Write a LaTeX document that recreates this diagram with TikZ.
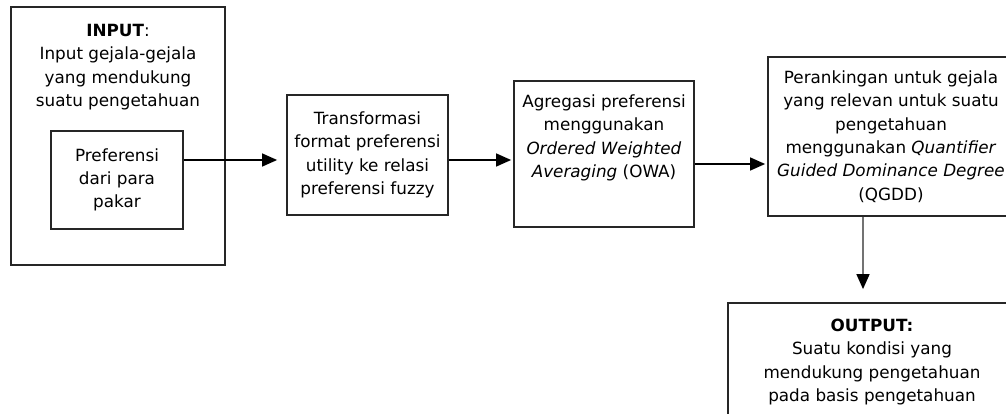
\documentclass[tikz,border=0pt]{standalone}
\usepackage{fontspec}
\setmainfont{DejaVu Sans}
\usetikzlibrary{arrows.meta}
\begin{document}
\begin{tikzpicture}[x=1pt,y=-1pt,
  box/.style={draw=black!85, line width=1.8pt, inner sep=0pt, align=center,
    font=\fontsize{16.8}{23.3}\selectfont},
  txt/.style={align=center, inner sep=0pt, font=\fontsize{16.8}{23.3}\selectfont},
  conn/.style={line width=1.4pt, -{Triangle[length=15pt,width=13pt]}}
]
\useasboundingbox (0,0) rectangle (1006,414);
\clip (0,0) rectangle (1006,414);

% input block with the expert preferences inside
\node[box, minimum width=214pt, minimum height=258pt] (inbox) at (118,136) {};
\node[txt] (intxt) at (118,67) {\textbf{INPUT}:\\Input gejala-gejala\\yang mendukung\\suatu pengetahuan};
\node[box, minimum width=132pt, minimum height=98pt] (pref) at (117,180) {Preferensi\\dari para\\pakar};

% processing steps
\node[box, minimum width=161pt, minimum height=120pt] (trans) at (367.5,155)
  {Transformasi\\format preferensi\\utility ke relasi\\preferensi fuzzy};
\node[box, minimum width=180pt, minimum height=146pt] (agr) at (604,154) {};
\node[txt] (agrtxt) at (604,138)
  {Agregasi preferensi\\menggunakan\\\textit{Ordered Weighted}\\\textit{Averaging} (OWA)};
\node[box, minimum width=246pt, minimum height=159pt] (rank) at (891,136.5)
  {Perankingan untuk gejala\\yang relevan untuk suatu\\pengetahuan\\menggunakan \textit{Quantifier}\\\textit{Guided Dominance Degree}\\(QGDD)};

% output block
\node[box, minimum width=288pt, minimum height=126pt] (out) at (872,366) {};
\node[txt] (outtxt) at (872,362)
  {\textbf{OUTPUT:}\\Suatu kondisi yang\\mendukung pengetahuan\\pada basis pengetahuan};

% connectors
\draw[conn, shorten >=9pt] ([yshift=20pt]pref.east) -- ([yshift=20pt]pref.east -| trans.west);
\draw[conn, shorten >=2pt] ([yshift=-5pt]trans.east) -- ([yshift=-5pt]trans.east -| agr.west);
\draw[conn, shorten >=2pt] ([yshift=-10pt]agr.east) -- ([yshift=-10pt]agr.east -| rank.west);
\draw[line width=1.6pt, draw=black!55, -{Triangle[length=15pt,width=13pt,black]}, shorten >=13pt]
  ([xshift=-28pt]rank.south) -- ([xshift=-28pt]rank.south |- out.north);
\end{tikzpicture}
\end{document}
